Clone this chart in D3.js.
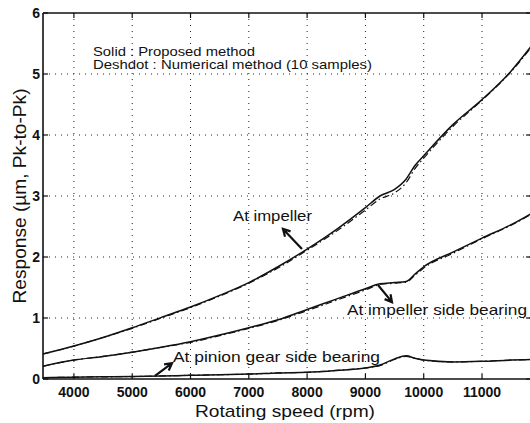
<html>
<head>
<script src="https://d3js.org/d3.v7.min.js"></script>
<style>
  body { margin: 0; background: #fff; }
  text { font-family: "Liberation Sans", Arial, Helvetica, sans-serif; fill: #111; }
</style>
</head>
<body>
<script>
  // rotating speed (rpm) sample points
  var rpm = [3470, 4000, 4500, 5000, 5500, 6000, 6500, 7000, 7500, 8000, 8500, 9000,
             9250, 9500, 9700, 9850, 10000, 10500, 11000, 11500, 11840];

  // proposed method (solid)
  var impeller     = [0.41, 0.54, 0.68, 0.84, 1.01, 1.18, 1.37, 1.58, 1.84, 2.13, 2.45, 2.81,
                      3.00, 3.11, 3.28, 3.50, 3.66, 4.17, 4.58, 5.05, 5.45];
  var sideBearing  = [0.21, 0.31, 0.37, 0.44, 0.52, 0.61, 0.72, 0.84, 0.97, 1.14, 1.31, 1.48,
                      1.56, 1.58, 1.60, 1.72, 1.84, 2.08, 2.31, 2.53, 2.71];
  var pinion       = [0.02, 0.03, 0.035, 0.04, 0.05, 0.06, 0.07, 0.08, 0.10, 0.11, 0.14, 0.18,
                      0.23, 0.33, 0.38, 0.34, 0.31, 0.28, 0.29, 0.31, 0.32];

  // numerical method (deshdot)
  var impellerNum    = [0.41, 0.54, 0.68, 0.83, 1.00, 1.17, 1.36, 1.57, 1.82, 2.11, 2.42, 2.77,
                        2.95, 3.05, 3.22, 3.45, 3.62, 4.14, 4.57, 5.04, 5.43];
  var sideBearingNum = [0.21, 0.31, 0.37, 0.44, 0.52, 0.60, 0.71, 0.83, 0.96, 1.12, 1.29, 1.46,
                        1.55, 1.57, 1.59, 1.70, 1.82, 2.06, 2.30, 2.52, 2.70];
  var pinionNum      = [0.02, 0.03, 0.035, 0.04, 0.05, 0.06, 0.07, 0.08, 0.10, 0.11, 0.14, 0.18,
                        0.22, 0.32, 0.37, 0.34, 0.31, 0.28, 0.29, 0.31, 0.32];

  var xTicks = [4000, 5000, 6000, 7000, 8000, 9000, 10000, 11000];
  var yTicks = [0, 1, 2, 3, 4, 5, 6];

  var svgWidth = 530, svgHeight = 423;
  var plotL = 43, plotR = 531, plotT = 13, plotB = 379;

  var x = d3.scaleLinear().domain([3470, 11840]).range([plotL, plotR]);
  var y = d3.scaleLinear().domain([0, 6]).range([plotB, plotT]);

  var svg = d3.select("body").append("svg")
    .attr("width", svgWidth)
    .attr("height", svgHeight);

  svg.append("rect").attr("width", svgWidth).attr("height", svgHeight).style("fill", "#fff");

  svg.append("clipPath").attr("id", "plotClip")
    .append("rect").attr("x", plotL).attr("y", plotT).attr("width", plotR - plotL).attr("height", plotB - plotT);

  // dotted grid
  var grid = svg.append("g");
  grid.selectAll(".vg").data(xTicks).enter().append("line")
    .attr("x1", function(d) { return x(d); }).attr("x2", function(d) { return x(d); })
    .attr("y1", plotT).attr("y2", plotB)
    .style("stroke", "#222").style("stroke-width", 1).style("stroke-dasharray", "1,5");
  grid.selectAll(".hg").data(yTicks.slice(1, 6)).enter().append("line")
    .attr("x1", plotL).attr("x2", plotR)
    .attr("y1", function(d) { return y(d); }).attr("y2", function(d) { return y(d); })
    .style("stroke", "#222").style("stroke-width", 1).style("stroke-dasharray", "1,5");

  // curves
  var line = function(vals) {
    return d3.line()
      .x(function(d, i) { return x(rpm[i]); })
      .y(function(d) { return y(d); })
      .curve(d3.curveMonotoneX)(vals);
  };
  var plot = svg.append("g").attr("clip-path", "url(#plotClip)");
  [impellerNum, sideBearingNum, pinionNum].forEach(function(s) {
    plot.append("path").attr("d", line(s))
      .style("fill", "none").style("stroke", "#111").style("stroke-width", 1.2)
      .style("stroke-dasharray", "7,3,1.5,3");
  });
  [impeller, sideBearing, pinion].forEach(function(s) {
    plot.append("path").attr("d", line(s))
      .style("fill", "none").style("stroke", "#111").style("stroke-width", 1.5);
  });

  // frame
  var frame = svg.append("g").style("stroke", "#111").style("stroke-width", 1.6);
  frame.append("line").attr("x1", plotL).attr("x2", plotR).attr("y1", plotT).attr("y2", plotT);
  frame.append("line").attr("x1", plotL).attr("x2", plotR).attr("y1", plotB).attr("y2", plotB);
  frame.append("line").attr("x1", plotL).attr("x2", plotL).attr("y1", plotT).attr("y2", plotB);
  frame.append("line").attr("x1", plotR).attr("x2", plotR).attr("y1", plotT).attr("y2", plotB);

  var ticks = svg.append("g").style("stroke", "#111").style("stroke-width", 1.2);
  xTicks.forEach(function(t) {
    ticks.append("line").attr("x1", x(t)).attr("x2", x(t)).attr("y1", plotB).attr("y2", plotB - 5);
    ticks.append("line").attr("x1", x(t)).attr("x2", x(t)).attr("y1", plotT).attr("y2", plotT + 5);
  });
  yTicks.forEach(function(t) {
    ticks.append("line").attr("x1", plotL).attr("x2", plotL + 5).attr("y1", y(t)).attr("y2", y(t));
    ticks.append("line").attr("x1", plotR).attr("x2", plotR - 5).attr("y1", y(t)).attr("y2", y(t));
  });

  // tick labels
  svg.selectAll(".xl").data(xTicks).enter().append("text")
    .attr("x", function(d) { return x(d); }).attr("y", 397)
    .attr("text-anchor", "middle")
    .style("font-size", "14px").style("font-weight", "bold")
    .text(function(d) { return d; });
  svg.selectAll(".yl").data(yTicks).enter().append("text")
    .attr("x", plotL - 3).attr("y", function(d) { return y(d) + 5; })
    .attr("text-anchor", "end")
    .style("font-size", "14px").style("font-weight", "bold")
    .text(function(d) { return d; });

  // axis titles
  svg.append("text").attr("x", 285).attr("y", 417).attr("text-anchor", "middle")
    .attr("textLength", 180).attr("lengthAdjust", "spacingAndGlyphs")
    .style("font-size", "17px").text("Rotating speed (rpm)");
  svg.append("text").attr("transform", "translate(26,196) rotate(-90)").attr("text-anchor", "middle")
    .attr("textLength", 215).attr("lengthAdjust", "spacingAndGlyphs")
    .style("font-size", "18px").text("Response (\u00b5m, Pk-to-Pk)");

  // legend notes
  svg.append("text").attr("x", 93).attr("y", 56)
    .attr("textLength", 162).attr("lengthAdjust", "spacingAndGlyphs")
    .style("font-size", "13px").text("Solid : Proposed method");
  svg.append("text").attr("x", 93).attr("y", 68.5)
    .attr("textLength", 279).attr("lengthAdjust", "spacingAndGlyphs")
    .style("font-size", "13px").text("Deshdot : Numerical method (10 samples)");

  // annotations: label position, arrow tail, arrow head (data units)
  var notes = [
    { text: "At impeller", tx: 6729, ty: 2.59, len: 79, from: [7912, 2.13], to: [7586, 2.46] },
    { text: "At impeller side bearing", tx: 8684, ty: 1.05, len: 180, from: [9216, 1.54], to: [9456, 1.26] },
    { text: "At pinion gear side bearing", tx: 5700, ty: 0.28, len: 207, from: [5391, 0.05], to: [5683, 0.26] }
  ];
  notes.forEach(function(n) {
    svg.append("text").attr("x", x(n.tx)).attr("y", y(n.ty))
      .attr("textLength", n.len).attr("lengthAdjust", "spacingAndGlyphs")
      .style("font-size", "15px").text(n.text);
    var x1 = x(n.from[0]), y1 = y(n.from[1]), x2 = x(n.to[0]), y2 = y(n.to[1]);
    var a = Math.atan2(y2 - y1, x2 - x1), h = 8, w = 0.5;
    var p = "M" + x1 + "," + y1 + "L" + x2 + "," + y2 +
      "M" + (x2 - h * Math.cos(a - w)) + "," + (y2 - h * Math.sin(a - w)) +
      "L" + x2 + "," + y2 +
      "L" + (x2 - h * Math.cos(a + w)) + "," + (y2 - h * Math.sin(a + w));
    svg.append("path").attr("d", p)
      .style("fill", "none").style("stroke", "#111").style("stroke-width", 2.2);
  });
</script>
</body>
</html>
